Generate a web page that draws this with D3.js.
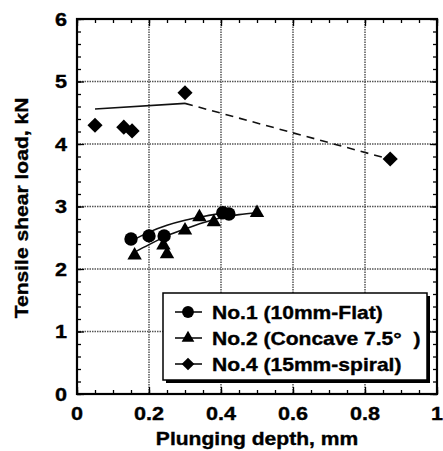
<!DOCTYPE html>
<html>
<head>
<meta charset="utf-8">
<script src="https://d3js.org/d3.v7.min.js"></script>
<style>
  body { margin: 0; background: #fff; }
  text { font-family: "Liberation Sans", Arial, sans-serif; font-weight: bold; fill: #000; stroke: #000; stroke-width: 0.35px; }
</style>
</head>
<body>
<svg id="chart" width="443" height="451"></svg>
<script>
// No.1 (10mm-Flat)
var no1X = [0.15, 0.2, 0.242, 0.405, 0.422];
var no1Y = [2.48, 2.53, 2.53, 2.90, 2.88];
// No.2 (Concave 7.5)
var no2X = [0.16, 0.24, 0.25, 0.3, 0.34, 0.38, 0.5];
var no2Y = [2.22, 2.38, 2.24, 2.62, 2.83, 2.75, 2.90];
// No.4 (15mm-spiral)
var no4X = [0.05, 0.13, 0.153, 0.3, 0.87];
var no4Y = [4.30, 4.27, 4.21, 4.82, 3.76];

// fitted curves
var fit1X = [0.155, 0.2, 0.25, 0.3, 0.35, 0.4, 0.43];
var fit1Y = [2.46, 2.59, 2.70, 2.78, 2.84, 2.89, 2.91];
var fit2X = [0.16, 0.2, 0.25, 0.3, 0.35, 0.4, 0.45, 0.5];
var fit2Y = [2.27, 2.39, 2.53, 2.64, 2.74, 2.82, 2.87, 2.90];
var fit4SolidX = [0.05, 0.3];
var fit4SolidY = [4.56, 4.65];
var fit4DashX = [0.3, 0.86];
var fit4DashY = [4.65, 3.77];

var xTicks = [0, 0.2, 0.4, 0.6, 0.8, 1];
var xTickLabels = ["0", "0.2", "0.4", "0.6", "0.8", "1"];
var yTicks = [0, 1, 2, 3, 4, 5, 6];

var legendLabels = ["No.1 (10mm-Flat)", "No.2 (Concave 7.5°  )", "No.4 (15mm-spiral)"];
var legendSymbols = ["circle", "triangle", "diamond"];

var svg = d3.select("#chart");
var pLeft = 77, pRight = 437, pTop = 19, pBottom = 394;
var sx = 1.17; // text horizontal stretch

var x = d3.scaleLinear().domain([0, 1]).range([pLeft, pRight]);
var y = d3.scaleLinear().domain([0, 6]).range([pBottom, pTop]);

function stext(g, tx, ty, str, anchor, size) {
  return g.append("text")
    .attr("transform", "translate(" + tx + "," + ty + ") scale(" + sx + ",1)")
    .attr("text-anchor", anchor)
    .style("font-size", size + "px")
    .style("white-space", "pre")
    .text(str);
}

// grid
var grid = svg.append("g");
grid.selectAll(".gx").data(xTicks.slice(1, -1)).enter().append("line")
  .attr("x1", d => x(d)).attr("x2", d => x(d))
  .attr("y1", pTop).attr("y2", pBottom)
  .attr("stroke", "#555").attr("stroke-width", 1.5).attr("stroke-dasharray", "1.5,1");
grid.selectAll(".gy").data(yTicks.slice(1, -1)).enter().append("line")
  .attr("y1", d => y(d)).attr("y2", d => y(d))
  .attr("x1", pLeft).attr("x2", pRight)
  .attr("stroke", "#555").attr("stroke-width", 1.5).attr("stroke-dasharray", "1.5,1");

// axes with inward ticks
var xMinor = d3.range(0, 1.0001, 0.05);
var yMinor = d3.range(0, 6.0001, 0.2);
svg.append("g").attr("transform", "translate(0," + pBottom + ")")
  .call(d3.axisTop(x).tickValues(xMinor).tickSize(4).tickFormat(""));
svg.append("g").attr("transform", "translate(0," + pTop + ")")
  .call(d3.axisBottom(x).tickValues(xMinor).tickSize(4).tickFormat(""));
svg.append("g").attr("transform", "translate(" + pLeft + ",0)")
  .call(d3.axisRight(y).tickValues(yMinor).tickSize(4).tickFormat(""));
svg.append("g").attr("transform", "translate(" + pRight + ",0)")
  .call(d3.axisLeft(y).tickValues(yMinor).tickSize(4).tickFormat(""));
svg.append("g").attr("transform", "translate(0," + pBottom + ")")
  .call(d3.axisTop(x).tickValues(xTicks).tickSize(7).tickFormat(""));
svg.append("g").attr("transform", "translate(0," + pTop + ")")
  .call(d3.axisBottom(x).tickValues(xTicks).tickSize(7).tickFormat(""));
svg.append("g").attr("transform", "translate(" + pLeft + ",0)")
  .call(d3.axisRight(y).tickValues(yTicks).tickSize(7).tickFormat(""));
svg.append("g").attr("transform", "translate(" + pRight + ",0)")
  .call(d3.axisLeft(y).tickValues(yTicks).tickSize(7).tickFormat(""));
svg.selectAll(".domain").remove();
svg.selectAll(".tick line").attr("stroke", "#000").attr("stroke-width", 1.3);

svg.append("rect").attr("x", pLeft).attr("y", pTop)
  .attr("width", pRight - pLeft).attr("height", pBottom - pTop)
  .attr("fill", "none").attr("stroke", "#000").attr("stroke-width", 2.2);

// tick labels
var lab = svg.append("g");
xTicks.forEach(function(t, i) { stext(lab, x(t), 420, xTickLabels[i], "middle", 18.5); });
yTicks.forEach(function(t) { stext(lab, 67, y(t) + 6.5, String(t), "end", 18.5); });

// axis titles
stext(svg, 257, 445, "Plunging depth, mm", "middle", 18);
svg.append("text")
  .attr("transform", "translate(28," + 208 + ") rotate(-90) scale(" + sx + ",1)")
  .attr("text-anchor", "middle").style("font-size", "18px")
  .text("Tensile shear load, kN");

// fit lines
var line = d3.line().x(d => x(d[0])).y(d => y(d[1])).curve(d3.curveMonotoneX);
function pairs(a, b) { return a.map((v, i) => [v, b[i]]); }
svg.append("path").datum(pairs(fit1X, fit1Y)).attr("d", line)
  .attr("fill", "none").attr("stroke", "#111").attr("stroke-width", 1.6);
svg.append("path").datum(pairs(fit2X, fit2Y)).attr("d", line)
  .attr("fill", "none").attr("stroke", "#111").attr("stroke-width", 1.6);
svg.append("path").datum(pairs(fit4SolidX, fit4SolidY)).attr("d", line)
  .attr("fill", "none").attr("stroke", "#111").attr("stroke-width", 1.6);
svg.append("path").datum(pairs(fit4DashX, fit4DashY)).attr("d", line)
  .attr("fill", "none").attr("stroke", "#111").attr("stroke-width", 1.6)
  .attr("stroke-dasharray", "8,6");

// markers
var sym = {
  circle: d3.symbol().type(d3.symbolCircle).size(140),
  triangle: d3.symbol().type(d3.symbolTriangle).size(90),
  diamond: d3.symbol().type(d3.symbolSquare).size(115)
};
function drawPts(xs, ys, kind) {
  svg.append("g").selectAll("path").data(pairs(xs, ys)).enter().append("path")
    .attr("d", sym[kind])
    .attr("transform", d => "translate(" + x(d[0]) + "," + y(d[1]) + ")" + (kind === "diamond" ? " rotate(45)" : ""))
    .attr("fill", "#000");
}
drawPts(no4X, no4Y, "diamond");
drawPts(no2X, no2Y, "triangle");
drawPts(no1X, no1Y, "circle");

// legend
var lg = svg.append("g");
lg.append("rect").attr("x", 166).attr("y", 296).attr("width", 264).attr("height", 87).attr("fill", "#000");
lg.append("rect").attr("x", 163).attr("y", 293).attr("width", 264).attr("height", 87)
  .attr("fill", "#fff").attr("stroke", "#000").attr("stroke-width", 1.5);
legendLabels.forEach(function(l, i) {
  var cy = 312 + i * 26;
  lg.append("line").attr("x1", 175).attr("x2", 202).attr("y1", cy).attr("y2", cy)
    .attr("stroke", "#000").attr("stroke-width", 1.5);
  var k = legendSymbols[i];
  var s = k === "circle" ? d3.symbol().type(d3.symbolCircle).size(110)
        : k === "triangle" ? d3.symbol().type(d3.symbolTriangle).size(70)
        : d3.symbol().type(d3.symbolSquare).size(80);
  lg.append("path").attr("d", s)
    .attr("transform", "translate(188," + cy + ")" + (k === "diamond" ? " rotate(45)" : ""))
    .attr("fill", "#000");
  stext(lg, 212, cy + 6.5, l, "start", 18);
});
</script>
</body>
</html>
